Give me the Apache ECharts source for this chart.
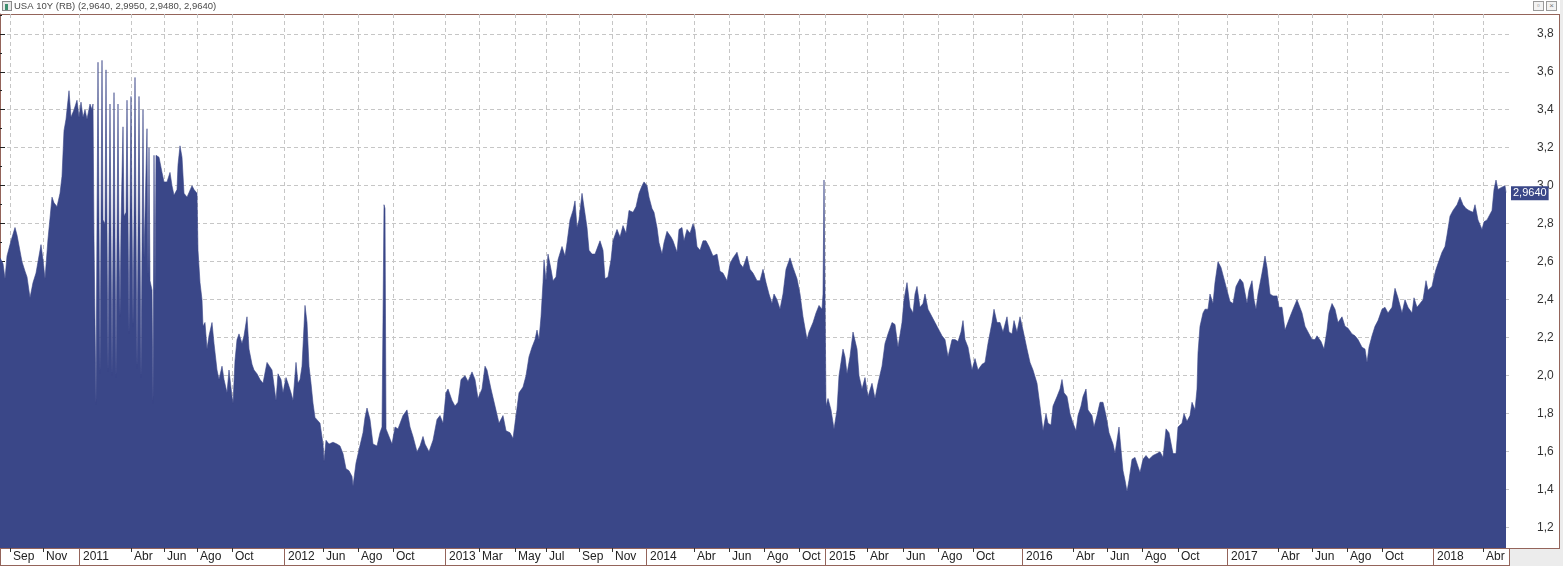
<!DOCTYPE html>
<html>
<head>
<meta charset="utf-8">
<script src="https://cdn.jsdelivr.net/npm/echarts@6/dist/echarts.min.js"></script>
<style>
html,body{margin:0;padding:0;width:1563px;height:566px;overflow:hidden;background:#ffffff;font-family:'Liberation Sans',Arial,sans-serif;}
#frame{position:absolute;left:0;top:14px;width:1560px;height:535px;box-sizing:border-box;border:1px solid #94645a;}
#strip{position:absolute;left:0;top:548px;width:1510px;height:18px;box-sizing:border-box;border:1px solid #94645a;border-top:none;}
#corner{position:absolute;left:1510px;top:549px;width:53px;height:17px;background:#ececec;}
#edge{position:absolute;left:1560px;top:0;width:3px;height:566px;background:#ececec;}
#icon{position:absolute;left:2px;top:1px;width:8px;height:8px;border:1px solid #8a8a8a;background:#e8e8e8;}
#icon i{position:absolute;left:2px;top:2px;width:3px;height:6px;background:#3f8f6f;}
.btn{position:absolute;top:1px;width:9px;height:8px;border:1px solid #9a9a9a;background:#f3f3f3;font-size:8px;line-height:8px;text-align:center;color:#777;}
#chart{position:absolute;left:0;top:0;width:1563px;height:566px;}
</style>
</head>
<body>
<div id="frame"></div>
<div id="strip"></div>
<div id="corner"></div>
<div id="edge"></div>
<div id="icon"><i></i></div>
<div class="btn" style="left:1533px;">&#9643;</div>
<div class="btn" style="left:1546px;">&#215;</div>
<div id="chart"></div>
<script>
// ---- data: [bar index, 10Y yield %] ----
const seg2010 = [[0,2.62],[3,2.59],[5,2.51],[7,2.63],[11,2.71],[15,2.78],[17,2.74],[19,2.73],[22,2.60],[25,2.55],[27,2.52],[30,2.41],[33,2.49],[36,2.54],[41,2.69],[43,2.61],[45,2.51],[48,2.72],[52,2.94],[54,2.91],[57,2.89],[60,2.96],[62,3.05],[64,3.29],[66,3.35],[69,3.50],[71,3.36],[74,3.40],[77,3.45]];
const seg2011 = [[79,3.36],[81,3.44],[83,3.36],[85,3.40],[87,3.35],[90,3.43],[92,3.40],[93,3.43],[94,2.72],[96,1.85],[97,2.80],[98,3.65],[99,2.80],[100,2.01],[101,2.84],[102,3.66],[103,2.82],[105,2.80],[106,3.61],[107,2.79],[108,2.02],[109,2.78],[110,3.43],[111,2.76],[112,2.00],[113,2.76],[114,3.49],[115,2.75],[116,1.99],[117,2.75],[118,3.43],[119,2.72],[120,2.31],[121,2.80],[123,3.31],[124,2.84],[126,2.86],[127,3.45],[128,2.85],[129,2.22],[130,2.86],[131,3.47],[132,2.86],[133,2.26],[134,2.84],[135,3.57],[136,2.82],[137,2.04],[138,2.76],[139,3.47],[140,2.75],[141,1.99],[142,2.68],[143,3.40],[144,2.62],[146,2.62],[147,3.30],[148,2.52],[149,3.20],[150,2.50],[152,2.45],[153,1.855],[154,3.16],[155,2.43],[156,3.16],[157,3.15],[159,3.15],[162,3.07],[164,3.02],[167,3.02],[170,3.07],[172,3.00],[174,2.95],[177,2.98],[178,3.11],[180,3.21],[182,3.15],[184,2.96],[187,2.94],[189,2.93],[192,3.00],[194,2.98],[197,2.96],[198,2.66],[200,2.49],[202,2.40],[203,2.26],[205,2.28],[207,2.14],[209,2.21],[212,2.28],[214,2.17],[217,2.03],[219,1.98],[222,2.05],[224,1.98],[227,1.91],[229,2.03],[232,1.89],[233,1.855],[235,2.08],[237,2.19],[239,2.22],[242,2.17],[244,2.21],[246,2.22],[247,2.31],[249,2.14],[252,2.06],[254,2.03],[257,2.01],[260,1.98],[263,1.96],[267,2.07],[269,2.07],[272,2.03],[274,2.03],[276,1.87],[278,2.01],[281,1.98],[283,1.91]];
const seg2012 = [[286,1.99],[288,1.96],[291,1.91],[293,1.87],[296,2.07],[298,1.96],[300,1.98],[302,2.05],[304,2.26],[305,2.37],[307,2.28],[309,2.05],[311,1.96],[313,1.855],[315,1.78],[317,1.77],[320,1.75],[323,1.64],[324,1.55],[326,1.66],[329,1.64],[333,1.65],[337,1.64],[340,1.63],[343,1.59],[346,1.51],[349,1.50],[352,1.47],[353,1.42],[356,1.54],[359,1.61],[363,1.70],[365,1.78],[367,1.83],[370,1.77],[373,1.64],[377,1.63],[380,1.70],[382,1.73],[383,2.30],[384,2.90],[385,2.88],[386,1.72],[387,1.73],[392,1.64],[395,1.73],[398,1.72],[403,1.79],[407,1.82],[410,1.73],[413,1.68],[417,1.60],[420,1.63],[423,1.68],[425,1.64],[429,1.60],[433,1.66],[437,1.77],[440,1.79],[443,1.75]];
const seg2013 = [[446,1.91],[448,1.93],[452,1.87],[455,1.84],[458,1.86],[461,1.98],[465,2.00],[468,1.97],[472,2.02],[475,1.98],[478,1.88],[482,1.93],[485,2.05],[487,2.03],[491,1.93],[495,1.84],[499,1.75],[503,1.79],[506,1.71],[510,1.70],[513,1.67],[516,1.79],[519,1.91],[523,1.94],[526,2.00],[529,2.10],[532,2.15],[535,2.19],[537,2.24],[539,2.19],[541,2.31],[543,2.49],[544,2.61],[546,2.50],[548,2.64],[551,2.56],[553,2.50],[556,2.52],[558,2.61],[562,2.68],[565,2.63],[567,2.70],[570,2.82],[573,2.87],[575,2.92],[577,2.78],[579,2.82],[582,2.96],[584,2.95],[587,2.78],[589,2.66],[592,2.64],[595,2.64],[597,2.64],[600,2.71],[603,2.66],[605,2.51],[608,2.52],[611,2.61],[613,2.71],[617,2.77],[620,2.73],[623,2.79],[626,2.75],[629,2.87],[633,2.86],[636,2.89],[639,2.96],[642,3.00],[644,3.02]];
const seg2014 = [[647,3.00],[649,2.94],[652,2.88],[654,2.86],[657,2.78],[659,2.70],[662,2.64],[664,2.70],[667,2.76],[671,2.73],[673,2.71],[677,2.65],[679,2.77],[682,2.78],[684,2.71],[687,2.77],[690,2.75],[693,2.80],[695,2.77],[697,2.68],[700,2.66],[703,2.71],[706,2.71],[709,2.68],[713,2.63],[717,2.64],[720,2.55],[723,2.54],[727,2.50],[730,2.59],[733,2.62],[737,2.65],[740,2.59],[743,2.57],[747,2.63],[750,2.56],[753,2.54],[757,2.50],[760,2.50],[763,2.56],[766,2.49],[769,2.43],[772,2.38],[774,2.43],[777,2.40],[780,2.35],[783,2.43],[786,2.56],[790,2.62],[793,2.57],[797,2.51],[800,2.43],[803,2.31],[807,2.19],[809,2.23],[813,2.28],[816,2.33],[819,2.37],[822,2.35],[823,2.43],[824,3.03],[825,2.43]];
const seg2015 = [[826,1.84],[828,1.88],[831,1.82],[834,1.72],[837,1.82],[839,2.00],[843,2.14],[845,2.10],[847,2.01],[850,2.10],[853,2.23],[857,2.14],[859,2.00],[862,1.93],[865,1.99],[868,1.89],[872,1.96],[875,1.88],[878,1.96],[882,2.05],[885,2.17],[888,2.22],[892,2.28],[895,2.27],[898,2.15],[902,2.28],[904,2.40],[907,2.49],[910,2.36],[913,2.33],[915,2.43],[917,2.47],[920,2.36],[923,2.38],[925,2.43],[928,2.35],[932,2.31],[935,2.28],[938,2.25],[942,2.21],[945,2.19],[948,2.10],[952,2.19],[955,2.19],[958,2.18],[961,2.23],[963,2.29],[965,2.19],[968,2.15],[972,2.03],[975,2.09],[978,2.03],[982,2.06],[985,2.07],[988,2.17],[992,2.28],[994,2.35],[997,2.28],[1000,2.28],[1003,2.23],[1007,2.31],[1009,2.23],[1012,2.22],[1014,2.29],[1017,2.23],[1020,2.31]];
const seg2016 = [[1023,2.24],[1027,2.14],[1030,2.07],[1033,2.03],[1037,1.96],[1040,1.84],[1043,1.71],[1046,1.80],[1048,1.75],[1051,1.74],[1053,1.84],[1057,1.89],[1060,1.93],[1062,1.98],[1064,1.91],[1067,1.89],[1070,1.80],[1073,1.75],[1076,1.71],[1078,1.79],[1081,1.84],[1083,1.89],[1086,1.93],[1088,1.82],[1092,1.79],[1094,1.73],[1097,1.79],[1100,1.86],[1103,1.86],[1106,1.79],[1109,1.70],[1113,1.64],[1115,1.59],[1117,1.66],[1119,1.73],[1121,1.61],[1123,1.50],[1125,1.45],[1127,1.39],[1129,1.45],[1132,1.56],[1135,1.57],[1137,1.56],[1140,1.49],[1143,1.56],[1146,1.58],[1149,1.56],[1153,1.58],[1157,1.59],[1160,1.60],[1163,1.57],[1166,1.72],[1169,1.70],[1173,1.59],[1176,1.59],[1178,1.73],[1182,1.75],[1184,1.80],[1187,1.76],[1190,1.79],[1192,1.86],[1195,1.82],[1197,1.93],[1198,2.12],[1200,2.26],[1203,2.33],[1205,2.35],[1208,2.35],[1210,2.43],[1213,2.38],[1215,2.49],[1218,2.60],[1221,2.57],[1223,2.56],[1226,2.47]];
const seg2017 = [[1230,2.39],[1233,2.38],[1236,2.47],[1240,2.51],[1243,2.49],[1247,2.38],[1249,2.45],[1252,2.50],[1254,2.40],[1256,2.35],[1258,2.43],[1262,2.54],[1265,2.63],[1267,2.57],[1270,2.43],[1273,2.42],[1277,2.42],[1279,2.36],[1282,2.36],[1285,2.24],[1287,2.23],[1290,2.31],[1293,2.35],[1297,2.40],[1298,2.41],[1302,2.33],[1305,2.26],[1308,2.23],[1312,2.19],[1315,2.19],[1317,2.21],[1321,2.18],[1324,2.14],[1327,2.24],[1329,2.33],[1332,2.38],[1335,2.35],[1338,2.28],[1342,2.31],[1345,2.26],[1348,2.25],[1352,2.22],[1355,2.21],[1358,2.19],[1362,2.15],[1365,2.14],[1367,2.07],[1369,2.15],[1372,2.21],[1375,2.26],[1378,2.29],[1382,2.35],[1385,2.36],[1388,2.33],[1392,2.36],[1395,2.46],[1398,2.41],[1402,2.33],[1405,2.40],[1408,2.36],[1412,2.33],[1414,2.41],[1417,2.36],[1420,2.38],[1423,2.40],[1426,2.50],[1428,2.45],[1432,2.47]];
const seg2018 = [[1434,2.52],[1436,2.56],[1438,2.59],[1442,2.65],[1445,2.68],[1447,2.74],[1450,2.84],[1453,2.87],[1457,2.90],[1460,2.94],[1463,2.90],[1466,2.88],[1469,2.87],[1473,2.86],[1475,2.90],[1478,2.82],[1482,2.77],[1484,2.81],[1487,2.82],[1489,2.83],[1492,2.87],[1494,2.98],[1496,3.03],[1498,2.98],[1501,2.99],[1503,2.98],[1505,3.00],[1506,2.964]];

// last bar: open, high, low, close
const lastBar = [2.964, 2.995, 2.948, 2.964];

// ---- axis ticks ----
const monthTickIdx = [10,43,131,164,197,232,323,358,393,479,515,546,579,612,694,729,764,799,867,903,938,973,1073,1107,1142,1178,1278,1312,1347,1382,1483];
const monthTickLabels = ['Sep','Nov','Abr','Jun','Ago','Oct','Jun','Ago','Oct','Mar','May','Jul','Sep','Nov','Abr','Jun','Ago','Oct','Abr','Jun','Ago','Oct','Abr','Jun','Ago','Oct','Abr','Jun','Ago','Oct','Abr'];
const yearTickIdx = [79,284,445,646,825,1022,1227,1433];
const yearTickLabels = ['2011','2012','2013','2014','2015','2016','2017','2018'];
const yTicks = [1.2,1.4,1.6,1.8,2.0,2.2,2.4,2.6,2.8,3.0,3.2,3.4,3.6,3.8];
const yMinorTicks = [1.1,1.3,1.5,1.7,1.9,2.1,2.3,2.5,2.7,2.9,3.1,3.3,3.5,3.7,3.9];

const NAVY = '#3a4788';
const BROWN = '#94645a';
const GRID = '#c6c6c6';
const FONT = "'Liberation Sans', Arial, sans-serif";

const seriesData = [].concat(seg2010, seg2011, seg2012, seg2013, seg2014, seg2015, seg2016, seg2017, seg2018);
const comma = (v, d) => v.toFixed(d).replace('.', ',');
const headerText = 'USA 10Y (RB) (' + lastBar.map(v => comma(v, 4)).join(', ') + ')';
const allTicks = monthTickIdx.concat(yearTickIdx).sort((a, b) => a - b);
const labelOf = (idxArr, labArr) => v => { const i = idxArr.indexOf(Math.round(v)); return i >= 0 ? labArr[i] : ''; };

const chart = echarts.init(document.getElementById('chart'), null, {renderer: 'canvas'});
chart.setOption({
  animation: false,
  title: {
    text: headerText, left: 14, top: 1, padding: 0,
    textStyle: {fontSize: 9.5, fontWeight: 'normal', color: '#4a4a4a', fontFamily: FONT}
  },
  grid: {left: 0, right: 54, top: 14, bottom: 18},
  xAxis: [
    {
      type: 'value', min: 0, max: 1509, position: 'bottom',
      axisLine: {show: true, onZero: false, lineStyle: {color: BROWN, width: 1}},
      axisTick: {show: true, customValues: allTicks, length: 4, lineStyle: {color: '#333'}},
      axisLabel: {customValues: monthTickIdx, formatter: labelOf(monthTickIdx, monthTickLabels),
        align: 'left', verticalAlign: 'top', padding: [0, 0, 0, 3], margin: 3, fontSize: 12, color: '#222', fontFamily: FONT},
      splitLine: {show: true, lineStyle: {color: GRID, type: [4, 3], width: 1}}
    },
    {
      type: 'value', min: 0, max: 1509, position: 'bottom', offset: 0,
      axisLine: {show: false},
      axisTick: {show: true, customValues: yearTickIdx, length: 17, lineStyle: {color: BROWN}},
      axisLabel: {customValues: yearTickIdx, formatter: labelOf(yearTickIdx, yearTickLabels),
        align: 'left', verticalAlign: 'top', padding: [0, 0, 0, 4], margin: 3, fontSize: 12, color: '#222', fontFamily: FONT},
      splitLine: {show: false}
    }
  ],
  yAxis: [
    {
      type: 'value', position: 'right', min: 1.093, max: 3.904,
      axisLine: {show: true, lineStyle: {color: BROWN, width: 1}},
      axisTick: {show: true, customValues: yTicks, length: 5, lineStyle: {color: '#222'}},
      axisLabel: {customValues: yTicks, formatter: v => comma(v, 1), margin: 28, align: 'left',
        fontSize: 12, color: '#333', fontFamily: FONT},
      splitLine: {show: true, lineStyle: {color: GRID, type: [4, 3], width: 1}}
    },
    {
      type: 'value', position: 'right', min: 1.093, max: 3.904, offset: 0,
      axisLine: {show: false},
      axisTick: {show: true, customValues: yMinorTicks, length: 2, lineStyle: {color: '#222'}},
      axisLabel: {show: false},
      splitLine: {show: false}
    }
  ],
  series: [{
    type: 'line', xAxisIndex: 0, yAxisIndex: 0, data: seriesData,
    showSymbol: false, symbol: 'none', smooth: false, sampling: null,
    lineStyle: {width: 0.6, color: NAVY},
    areaStyle: {color: NAVY, opacity: 1, origin: 'start'},
    markLine: {
      silent: true, symbol: ['none', 'none'], animation: false,
      data: [{yAxis: lastBar[3]}],
      lineStyle: {color: 'rgba(0,0,0,0)', width: 1, type: 'solid'},
      label: {show: true, position: 'end', formatter: comma(lastBar[3], 4), backgroundColor: NAVY, color: '#ffffff',
        fontSize: 11, padding: [2, 2, 1, 2], distance: 2, fontFamily: FONT, opacity: 1}
    }
  }]
});
</script>
</body>
</html>
